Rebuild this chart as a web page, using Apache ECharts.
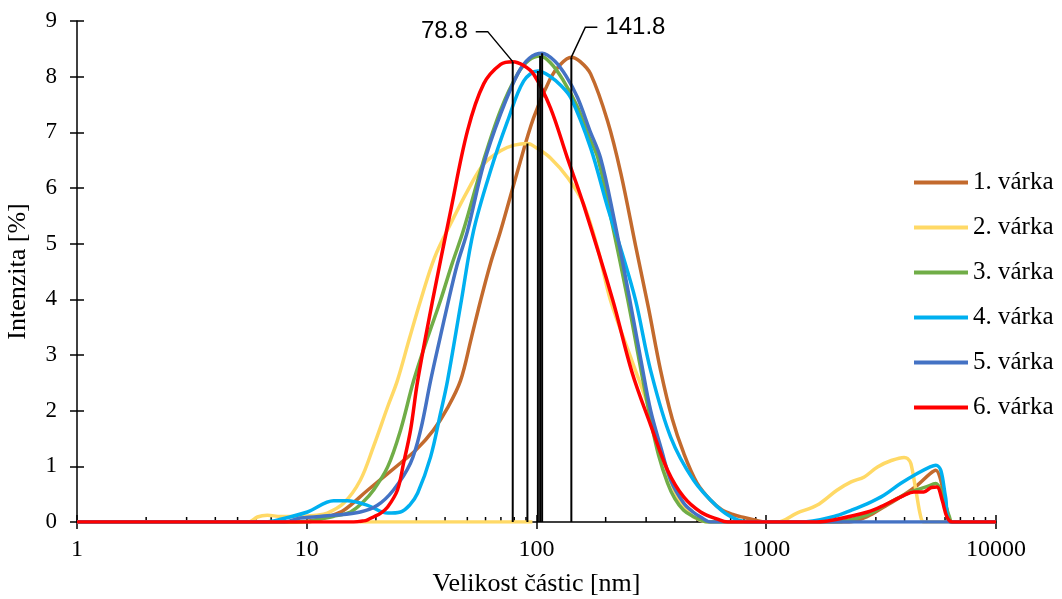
<!DOCTYPE html>
<html><head><meta charset="utf-8">
<script src="https://cdn.jsdelivr.net/npm/echarts@6/dist/echarts.min.js"></script>
<style>html,body{margin:0;padding:0;background:#fff}#c{width:1062px;height:599px}</style>
</head><body><div id="c"></div>
<script>
// ---- data (size in nm, intensity in %) ----
const seriesNames = ['1. várka','2. várka','3. várka','4. várka','5. várka','6. várka'];
const seriesColors = ['#C36A2D','#FFD966','#70AD47','#00B0F0','#4472C4','#FF0000'];

const varka1 = [[1,0],[9,0],[11.1,0.04],[12.5,0.1],[14.5,0.21],[18.4,0.57],[25.6,1.06],[30,1.3],[35.6,1.65],[41,2.05],[46.7,2.54],[52,3.3],[57.1,3.98],[63.1,4.65],[69.8,5.23],[82.8,6.31],[97.1,7.26],[115,7.97],[127,8.22],[141.8,8.35],[155,8.27],[172,8.05],[204,7.2],[233,6.26],[270,4.96],[307,3.85],[347,2.72],[390,1.85],[437,1.24],[500,0.7],[573,0.39],[640,0.22],[721,0.13],[800,0.08],[881,0.04],[1000,0],[2300,0],[2760,0.1],[3250,0.27],[3840,0.45],[4540,0.66],[5170,0.87],[5470,0.93],[5750,0.75],[6120,0.21],[6370,0],[10000,0]];

const varka2 = [[1,0],[5.6,0],[6.1,0.09],[6.74,0.12],[7.7,0.1],[9.4,0.1],[11,0.12],[12.3,0.16],[14.5,0.34],[17.1,0.75],[19.5,1.35],[22.5,2.07],[24.8,2.54],[28,3.3],[31.3,3.98],[36,4.75],[42.3,5.36],[50.1,5.95],[58.9,6.43],[69.8,6.67],[80,6.77],[91.3,6.80],[100,6.72],[115,6.54],[137,6.18],[160,5.72],[185,4.9],[210,3.98],[260,2.9],[314,1.95],[357,1.1],[411,0.45],[470,0.13],[518,0.03],[560,0],[1120,0],[1360,0.16],[1660,0.30],[2030,0.57],[2340,0.72],[2670,0.81],[3050,0.99],[3480,1.10],[3980,1.16],[4120,1.14],[4260,1.05],[4480,0.57],[4700,0.1],[4850,0],[10000,0]];

const varka3 = [[1,0],[10,0],[11.1,0.04],[13,0.1],[15.5,0.18],[17.5,0.35],[19.5,0.57],[22.5,0.99],[25.6,1.65],[29.2,2.54],[33.5,3.3],[38.2,3.98],[43,4.65],[48,5.23],[58.9,6.5],[69.8,7.4],[82.8,8.05],[93,8.3],[103.7,8.37],[115,8.25],[130,7.95],[151,7.45],[170,6.9],[185,6.54],[210,5.5],[250,3.98],[280,2.9],[314,1.83],[340,1.2],[372,0.7],[400,0.42],[437,0.21],[480,0.1],[518,0.04],[556,0],[1970,0],[2760,0.13],[3480,0.36],[4260,0.54],[4960,0.63],[5470,0.69],[5750,0.57],[6260,0.1],[6450,0],[10000,0]];

const varka4 = [[1,0],[6.5,0],[7.69,0.05],[10.07,0.18],[13.1,0.38],[15,0.38],[18.4,0.3],[22.5,0.16],[25.6,0.18],[28,0.3],[30.4,0.52],[34.6,1.17],[38.2,1.95],[41,2.54],[47.1,3.98],[53.2,5.23],[63.1,6.31],[74.8,7.2],[87.9,7.92],[101.4,8.10],[115,8.0],[127,7.85],[141,7.62],[172,6.72],[204,5.65],[235,4.85],[270,3.98],[314,2.72],[384,1.52],[483,0.75],[614,0.27],[721,0.07],[850,0],[1413,0],[1970,0.1],[2340,0.21],[2760,0.33],[3250,0.48],[3840,0.69],[4540,0.87],[5170,0.99],[5470,1.02],[5750,0.93],[6030,0.45],[6370,0],[10000,0]];

const varka5 = [[1,0],[8,0],[9.39,0.07],[13.1,0.12],[17.1,0.18],[20.3,0.3],[23.8,0.57],[28.3,1.06],[31.3,1.65],[34.6,2.54],[38,3.3],[41,3.9],[45,4.6],[50.1,5.23],[58.9,6.43],[69.8,7.33],[82.8,8.05],[93,8.33],[105.8,8.42],[120,8.28],[135,8.0],[151,7.62],[170,7.05],[190,6.54],[217,5.47],[255,3.98],[285,2.9],[314,2.0],[350,1.3],[384,0.75],[437,0.34],[480,0.18],[518,0.09],[573,0],[10000,0]];

const varka6 = [[1,0],[16,0],[17.7,0.02],[18.4,0.04],[19.5,0.09],[21,0.16],[22.5,0.27],[24.8,0.57],[26.4,1.06],[28.3,1.65],[30.4,2.54],[35.3,3.98],[42.3,5.59],[50.1,7.03],[58.9,7.87],[69.8,8.22],[78.8,8.27],[87.9,8.2],[97.4,8.04],[115,7.44],[136,6.55],[160,5.71],[215,3.98],[260,2.7],[314,1.74],[372,0.93],[437,0.45],[518,0.18],[614,0.05],[679,0],[1660,0],[2030,0.05],[2760,0.18],[3250,0.30],[3980,0.48],[4390,0.54],[4850,0.54],[5230,0.62],[5530,0.63],[5830,0.39],[6120,0.09],[6450,0],[10000,0]];

const yellowBaseline = [[17,0],[96,0]];

// peak positions (nm) and their heights (%), drawn as vertical lines
const peakLines = [[78.8,8.27],[91.3,6.80],[101.4,8.10],[103.7,8.37],[105.8,8.42],[141.8,8.35]];
// labelled peaks
const labelledPeaks = [[78.8,8.27],[141.8,8.35]];

const minorTickValues = [2,3,4,5,6,7,8,9,20,30,40,50,60,70,80,90,200,300,400,500,600,700,800,900,2000,3000,4000,5000,6000,7000,8000,9000];
const yTicks = {min:0, max:9, interval:1};
const xRange = {min:1, max:10000};

const allData = [varka1,varka2,varka3,varka4,varka5,varka6];

const chart = echarts.init(document.getElementById('c'));
const serif = 'Liberation Serif';

const lineSeries = allData.map((d,i)=>({
  name: seriesNames[i], type:'line', data:d, showSymbol:false, symbol:'none',
  smooth:0.35, lineStyle:{color:seriesColors[i], width:3.5}, itemStyle:{color:seriesColors[i]},
  z: 3 + i*0.01, silent:true
}));

const option = {
  animation:false,
  backgroundColor:'#fff',
  grid:{left:77, right:66, top:21, bottom:77, containLabel:false, outerBoundsMode:'none'},
  legend:{
    data: seriesNames, orient:'vertical', left:909, top:165, itemWidth:54, itemHeight:4, icon:'rect',
    itemGap:20, textStyle:{fontFamily:serif, fontSize:25, color:'#000', lineHeight:25}
  },
  xAxis:[{
    type:'log', logBase:10, min:xRange.min, max:xRange.max,
    name:'Velikost částic [nm]', nameLocation:'middle', nameGap:49,
    nameTextStyle:{fontFamily:serif, fontSize:26, color:'#000'},
    axisLine:{lineStyle:{color:'#000', width:1.5}},
    axisTick:{length:7, lineStyle:{color:'#000', width:1.5}},
    axisLabel:{fontFamily:serif, fontSize:24, color:'#000', margin:16, formatter:v=>String(Math.round(v))},
    splitLine:{show:false}
  },{
    type:'log', logBase:10, min:xRange.min, max:xRange.max, position:'bottom',
    axisLine:{show:false}, axisTick:{inside:true, length:7, lineStyle:{color:'#000', width:1.5}},
    axisLabel:{show:false}, splitLine:{show:false}
  }],
  yAxis:[{
    type:'value', min:yTicks.min, max:yTicks.max, interval:yTicks.interval,
    name:'Intenzita [%]', nameLocation:'middle', nameGap:46, nameRotate:90,
    nameTextStyle:{fontFamily:serif, fontSize:26, color:'#000'},
    axisLine:{show:true, lineStyle:{color:'#000', width:1.5}},
    axisTick:{show:true, length:7, lineStyle:{color:'#000', width:1.5}},
    axisLabel:{fontFamily:serif, fontSize:23, color:'#000', margin:20},
    splitLine:{show:false}
  },{
    type:'value', min:yTicks.min, max:yTicks.max, interval:yTicks.interval, position:'left',
    axisLine:{show:false}, axisTick:{show:true, inside:true, length:7, lineStyle:{color:'#000', width:1.5}},
    axisLabel:{show:false}, splitLine:{show:false}
  }],
  series:[
    {
      name:'minorTicks', type:'custom', data:minorTickValues.map(v=>[v,0]), silent:true, z:1,
      renderItem:(params, api)=>{
        const p = api.coord([api.value(0), 0]);
        return {type:'line', shape:{x1:p[0], y1:p[1], x2:p[0], y2:p[1]-5}, style:{stroke:'#000', lineWidth:1.5}};
      }
    },
    {
      name:'yb', type:'line', data:yellowBaseline, showSymbol:false, symbol:'none',
      lineStyle:{color:seriesColors[1], width:3.5}, z:2.5, silent:true
    },
    ...lineSeries,
    {
      name:'peaks', type:'custom', data:peakLines, silent:true, z:10,
      renderItem:(params, api)=>{
        const x = api.value(0), y = api.value(1);
        const p0 = api.coord([x, 0]), p1 = api.coord([x, y]);
        return {type:'line', shape:{x1:p0[0], y1:p0[1], x2:p1[0], y2:p1[1]}, style:{stroke:'#000', lineWidth:2}};
      }
    },
    {
      name:'labels', type:'custom', data:labelledPeaks, silent:true, z:11,
      renderItem:(params, api)=>{
        const x = api.value(0), y = api.value(1);
        const p = api.coord([x, y]);
        const left = params.dataIndex === 0;
        const dx = left ? -25 : 14, len = 12, rise = 30;
        const e = [p[0]+dx, p[1]-rise];
        const end = [e[0] + (left ? -len : len), e[1]];
        return {type:'group', children:[
          {type:'polyline', shape:{points:[p, e, end]}, style:{stroke:'#000', lineWidth:1.5, fill:null}},
          {type:'text', style:{x:end[0] + (left ? -8 : 8), y:end[1], text:String(x),
            align: left ? 'right' : 'left', verticalAlign:'middle',
            font:'24px "Liberation Sans"', fill:'#000'}}
        ]};
      }
    }
  ]
};
chart.setOption(option);
</script>
</body></html>
